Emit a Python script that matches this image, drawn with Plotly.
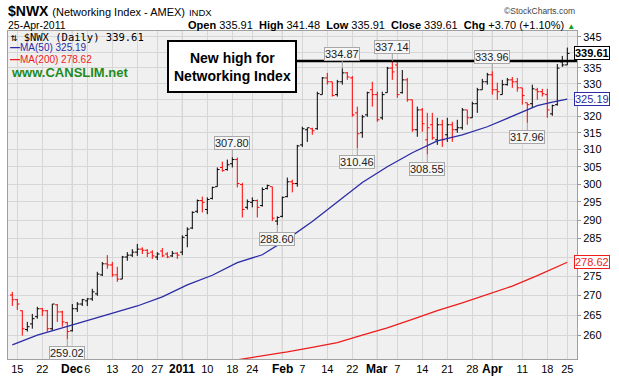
import numpy as np
import plotly.graph_objects as go

# ---------------- data ----------------
nov = [12, 15, 16, 17, 18, 19, 22, 23, 24, 26, 29, 30]
dec = [1, 2, 3, 6, 7, 8, 9, 10, 13, 14, 15, 16, 17, 20, 21, 22, 23, 27, 28, 29, 30, 31]
jan = [3, 4, 5, 6, 7, 10, 11, 12, 13, 14, 18, 19, 20, 21, 24, 25, 26, 27, 28, 31]
feb = [1, 2, 3, 4, 7, 8, 9, 10, 11, 14, 15, 16, 17, 18, 22, 23, 24, 25, 28]
mar = [1, 2, 3, 4, 7, 8, 9, 10, 11, 14, 15, 16, 17, 18, 21, 22, 23, 24, 25, 28, 29, 30, 31]
apr = [1, 4, 5, 6, 7, 8, 11, 12, 13, 14, 15, 18, 19, 20, 21, 25]

dates = ([f"2010-11-{d:02d}" for d in nov] + [f"2010-12-{d:02d}" for d in dec] +
         [f"2011-01-{d:02d}" for d in jan] + [f"2011-02-{d:02d}" for d in feb] +
         [f"2011-03-{d:02d}" for d in mar] + [f"2011-04-{d:02d}" for d in apr])

opens = [
    270.1, 268.9, 266.1, 261.4, 262.8, 264.6, 266.6, 266.1, 261.6, 267.6,
    265.8, 263.1, 261.1, 266.6, 267.8, 268.6, 269.1, 270.4, 275.3, 278.2,
    277.9, 275.3, 274.2, 280.0, 280.5, 281.3, 282.1, 281.8, 281.3, 280.0,
    281.6, 280.8, 280.3, 281.0, 281.3, 285.8, 287.8, 292.4, 295.4, 292.9,
    296.0, 299.3, 304.8, 304.2, 305.9, 307.1, 299.9, 293.5, 294.9, 295.4,
    294.0, 298.8, 299.3, 289.7, 291.0, 296.5, 300.7, 300.2, 311.4, 315.9,
    316.2, 316.2, 326.6, 331.8, 330.6, 326.6, 330.6, 333.4, 331.8, 321.0,
    315.0, 320.4, 328.1, 326.6, 319.5, 327.2, 334.9, 335.9, 327.2, 331.2,
    325.0, 315.9, 321.9, 312.9, 317.4, 312.9, 317.4, 314.4, 317.4, 315.9,
    316.5, 321.9, 319.5, 323.8, 328.1, 330.6, 332.8, 328.1, 326.6, 329.7,
    331.2, 330.6, 328.7, 324.1, 323.8, 328.1, 327.5, 326.6, 320.7, 323.5,
    336.9, 335.91]
highs = [
    270.9, 269.1, 266.2, 263.3, 265.3, 267.1, 266.8, 266.3, 267.8, 267.8,
    266.1, 263.3, 267.8, 268.3, 269.1, 269.3, 271.7, 276.1, 278.7, 280.5,
    278.7, 277.4, 280.3, 281.3, 282.1, 283.5, 282.6, 282.1, 281.8, 281.3,
    282.4, 281.3, 281.6, 281.3, 285.8, 288.0, 292.4, 295.7, 296.5, 296.3,
    299.3, 304.8, 306.5, 307.1, 307.80, 307.7, 300.4, 295.7, 296.3, 295.7,
    299.1, 299.9, 299.3, 291.0, 296.5, 301.9, 301.3, 311.4, 316.8, 316.5,
    316.5, 327.5, 332.1, 333.4, 330.6, 331.2, 334.87, 333.7, 332.4, 322.9,
    320.4, 327.5, 330.6, 327.5, 327.5, 335.3, 337.14, 336.9, 334.3, 331.8,
    325.0, 322.9, 322.5, 321.0, 321.0, 319.5, 318.9, 319.5, 318.3, 318.9,
    322.5, 321.9, 324.4, 328.7, 331.5, 333.4, 333.96, 330.3, 331.2, 331.8,
    332.1, 331.8, 328.7, 324.1, 329.7, 328.7, 328.4, 328.4, 323.5, 336.2,
    338.8, 341.48]
lows = [
    267.3, 266.3, 259.9, 260.9, 261.6, 264.1, 264.8, 260.9, 261.1, 263.3,
    262.1, 259.02, 260.9, 265.8, 267.3, 267.3, 268.6, 269.9, 275.0, 276.9,
    274.8, 273.5, 274.2, 279.0, 280.0, 280.3, 280.8, 280.0, 279.5, 279.2,
    280.0, 279.7, 280.0, 279.5, 280.5, 282.6, 287.5, 291.9, 292.1, 291.6,
    295.7, 299.3, 303.6, 303.9, 304.8, 299.1, 290.7, 292.9, 293.5, 290.7,
    293.7, 298.5, 289.7, 288.60, 290.7, 296.3, 297.7, 299.3, 310.8, 312.3,
    314.4, 315.9, 326.6, 329.7, 326.0, 326.0, 329.7, 331.2, 319.8, 310.46,
    313.5, 319.8, 322.9, 318.3, 318.9, 327.2, 331.2, 325.6, 326.9, 324.4,
    315.3, 313.8, 315.3, 308.55, 312.9, 311.4, 310.8, 312.3, 312.3, 315.0,
    315.9, 317.4, 319.5, 321.0, 328.1, 329.7, 326.6, 325.0, 326.6, 329.4,
    328.7, 327.5, 323.5, 317.96, 322.5, 325.0, 326.0, 319.5, 320.1, 323.2,
    335.3, 335.91]
closes = [
    268.9, 267.8, 261.6, 262.1, 264.1, 266.6, 266.1, 261.6, 267.8, 265.8,
    263.3, 260.9, 266.6, 267.8, 268.9, 269.1, 270.9, 275.5, 278.2, 277.9,
    275.3, 274.2, 280.0, 280.5, 281.3, 282.1, 281.8, 281.0, 280.3, 280.8,
    280.3, 280.0, 281.0, 280.5, 285.3, 287.5, 292.1, 295.4, 294.9, 295.7,
    299.1, 304.2, 303.9, 305.6, 307.1, 300.2, 292.9, 295.1, 295.4, 293.5,
    298.5, 299.6, 290.5, 290.7, 296.3, 300.7, 300.2, 311.1, 316.2, 316.5,
    315.6, 326.9, 331.8, 330.6, 326.3, 330.6, 333.4, 332.1, 320.4, 314.7,
    319.8, 327.2, 326.6, 318.9, 326.6, 334.9, 333.7, 326.6, 331.2, 325.0,
    315.9, 321.9, 317.7, 316.5, 313.5, 317.4, 312.9, 317.4, 315.9, 316.5,
    321.9, 319.5, 323.8, 328.1, 330.6, 332.8, 328.1, 327.5, 329.7, 331.2,
    330.6, 328.7, 326.3, 323.5, 328.4, 327.5, 326.9, 321.9, 323.2, 334.9,
    335.91, 339.61]

ma50_idx = [0, 5, 10, 15, 20, 25, 30, 35, 40, 45, 50, 55, 60, 65, 70, 75, 80,
            85, 90, 95, 100, 105, 108, 111]
ma50_vals = [257.6, 260.0, 261.8, 263.6, 265.3, 267.3, 269.6, 272.7, 275.2, 278.5,
             280.6, 284.8, 289.6, 294.9, 300.5, 305.0, 309.1, 312.6, 314.4, 316.8,
             320.1, 323.2, 324.3, 325.19]
ma200_idx = [45, 50, 55, 60, 65, 70, 75, 80, 85, 90, 95, 100, 105, 111]
ma200_vals = [254.0, 254.9, 255.9, 257.0, 258.2, 260.0, 261.8, 263.9, 266.1, 268.1,
              270.2, 272.4, 275.1, 278.62]

label_dates = ["2010-11-30", "2011-01-18", "2011-01-31", "2011-02-17", "2011-02-23",
               "2011-03-04", "2011-03-15", "2011-04-01", "2011-04-12"]
label_vals = [259.02, 307.80, 288.60, 334.87, 310.46, 337.14, 308.55, 333.96, 317.96]
label_side = ["below", "above", "below", "above", "below", "above", "below", "above", "below"]

tick_dates = ["2010-11-15", "2010-11-22", "2010-12-06", "2010-12-13",
              "2010-12-20", "2010-12-27", "2011-01-10", "2011-01-18",
              "2011-01-24", "2011-02-07", "2011-02-14", "2011-02-22",
              "2011-03-07", "2011-03-14", "2011-03-21", "2011-03-28",
              "2011-04-11", "2011-04-18", "2011-04-25"]
tick_text = ["15", "22", "6", "13", "20", "27", "10", "18",
             "24", "7", "14", "22", "7", "14", "21", "28", "11", "18", "25"]
month_dates = ["2010-12-01", "2011-01-03", "2011-02-01", "2011-03-01", "2011-04-01"]
month_text = ["Dec", "2011", "Feb", "Mar", "Apr"]

y_ticks = [260, 265, 270, 275, 280, 285, 290, 295, 300, 305, 310, 315, 320, 325,
           330, 335, 340, 345]
# labels hidden behind the value tags in the reference
y_hidden = [280, 325, 340]

FONT = "Liberation Sans, Arial, sans-serif"

# ---------------- figure ----------------
fig = go.Figure()

n = len(dates)
up_idx = [i for i in range(n) if i > 0 and closes[i] >= closes[i - 1]]
dn_idx = [i for i in range(n) if i not in up_idx]

fig.add_trace(go.Scatter(x=[dates[i] for i in ma200_idx], y=ma200_vals, mode="lines",
                         line=dict(color="#ee1c1c", width=1.3), hoverinfo="skip"))
fig.add_trace(go.Scatter(x=[dates[i] for i in ma50_idx], y=ma50_vals, mode="lines",
                         line=dict(color="#2b2ba6", width=1.3), hoverinfo="skip"))

for idxs, col in [(dn_idx, "#ff0000"), (up_idx, "#000000")]:
    fig.add_trace(go.Ohlc(
        x=[dates[i] for i in idxs],
        open=[opens[i] for i in idxs], high=[highs[i] for i in idxs],
        low=[lows[i] for i in idxs], close=[closes[i] for i in idxs],
        increasing=dict(line=dict(color=col, width=1)),
        decreasing=dict(line=dict(color=col, width=1)),
        tickwidth=0.45, hoverinfo="skip"))

L, R, T, B = 8, 577, 31, 359
def px(x):
    return (x - L) / (R - L)
def py(y):
    return (B - y) / (B - T)

shapes = []
for d in month_dates:
    shapes.append(dict(type="line", xref="x", yref="paper", x0=d, x1=d, y0=0, y1=1,
                       line=dict(color="#b4b4b4", width=1), layer="below"))
# annotation box and new-high line
shapes.append(dict(type="line", xref="paper", yref="y", x0=px(296), x1=1,
                   y0=label_vals[5], y1=label_vals[5], line=dict(color="black", width=2.5)))
shapes.append(dict(type="rect", xref="paper", yref="paper", x0=px(168), x1=px(296),
                   y0=py(92), y1=py(41), line=dict(color="black", width=2), fillcolor="white"))

ann = []
ann.append(dict(xref="paper", yref="paper", x=(px(168) + px(296)) / 2, y=(py(92) + py(41)) / 2,
                text="<b>New high for<br>Networking Index</b>", showarrow=False,
                font=dict(family=FONT, size=14, color="black"), xanchor="center", yanchor="middle"))

for d, v, s in zip(label_dates, label_vals, label_side):
    ann.append(dict(x=d, y=np.log10(v), xref="x", yref="y", text=f"{v:.2f}",
                    showarrow=True, arrowhead=0, arrowwidth=1, arrowcolor="#a0a0a0",
                    ax=0, ay=-14 if s == "above" else 14, standoff=0,
                    font=dict(family=FONT, size=11, color="#222"),
                    bgcolor="#f6f6f6", bordercolor="#a8a8a8", borderwidth=1, borderpad=0))

# month labels on the x axis (bold)
for d, t in zip(month_dates, month_text):
    ann.append(dict(x=d, xref="x", yref="paper", y=py(368.5), yanchor="middle",
                    text=f"<b>{t}</b>", showarrow=False,
                    font=dict(family=FONT, size=12, color="black")))

# right-side value tags
for v, col, bold in [(closes[-1], "black", True), (ma50_vals[-1], "#2b2ba6", False),
                     (ma200_vals[-1], "#ee1c1c", False)]:
    t = f"{v:.2f}"
    ann.append(dict(xref="paper", yref="y", x=1, y=np.log10(v), xanchor="left", xshift=-3,
                    text=f"<b>{t}</b>" if bold else t, showarrow=False,
                    font=dict(family=FONT, size=11, color=col), bgcolor="white",
                    bordercolor=col, borderwidth=1, borderpad=0))

# header
ann.append(dict(xref="paper", yref="paper", x=px(6), y=py(11), xanchor="left", yanchor="middle",
                showarrow=False, font=dict(family=FONT, size=14, color="black"),
                text="<b>$NWX</b> <span style='font-size:11px'>(Networking Index - AMEX)</span> "
                     "<span style='font-size:9.5px'>INDX</span>"))
ann.append(dict(xref="paper", yref="paper", x=1, y=py(11), xanchor="right", yanchor="middle",
                showarrow=False, font=dict(family=FONT, size=8.5, color="#444"),
                text="©StockCharts.com"))
ann.append(dict(xref="paper", yref="paper", x=px(6), y=py(25), xanchor="left", yanchor="middle",
                showarrow=False, font=dict(family=FONT, size=10.5, color="black"),
                text="25-Apr-2011"))
ann.append(dict(xref="paper", yref="paper", x=1, y=py(25), xanchor="right", yanchor="middle",
                showarrow=False, font=dict(family=FONT, size=11, color="black"),
                text="<b>Open</b> 335.91  <b>High</b> 341.48  <b>Low</b> 335.91  "
                     "<b>Close</b> 339.61  <b>Chg</b> +3.70 (+1.10%) "
                     "<span style='color:#10a010;font-size:8px'>▲</span>"))

# in-plot legend
ann.append(dict(xref="paper", yref="paper", x=px(9), y=py(36.8), xanchor="left", yanchor="middle",
                showarrow=False, font=dict(family="DejaVu Sans Mono, monospace", size=10.5, color="black"),
                text="⇅ $NWX (Daily) 339.61"))
ann.append(dict(xref="paper", yref="paper", x=px(8), y=py(47.3), xanchor="left", yanchor="middle",
                showarrow=False, font=dict(family=FONT, size=10, color="#2b2ba6"),
                text="<b>—</b>MA(50) 325.19"))
ann.append(dict(xref="paper", yref="paper", x=px(8), y=py(59.3), xanchor="left", yanchor="middle",
                showarrow=False, font=dict(family=FONT, size=10, color="#ee1c1c"),
                text="<b>—</b>MA(200) 278.62"))
ann.append(dict(xref="paper", yref="paper", x=px(9), y=py(72.5), xanchor="left", yanchor="middle",
                showarrow=False, font=dict(family=FONT, size=13, color="#1e8b1e"),
                text="<b>www.CANSLIM.net</b>"))

fig.update_layout(
    width=619, height=383,
    margin=dict(l=L, r=619 - R, t=T, b=383 - B, autoexpand=False),
    paper_bgcolor="white", plot_bgcolor="#f0f0f0",
    showlegend=False,
    shapes=shapes, annotations=ann,
    xaxis=dict(type="category", categoryorder="array", categoryarray=dates,
               range=[-0.86, 112.94], tickvals=tick_dates + month_dates,
               ticktext=tick_text + [""] * len(month_dates),
               showgrid=True, gridcolor="#d6d6d6", gridwidth=1, ticks="",
               tickfont=dict(family=FONT, size=11, color="black"),
               showline=True, linecolor="#a0a0a0", mirror=True, zeroline=False,
               rangeslider=dict(visible=False), fixedrange=True, automargin=False),
    yaxis=dict(type="log", side="right", range=[np.log10(254.2), np.log10(346.9)],
               tickvals=y_ticks, ticktext=["" if v in y_hidden else str(v) for v in y_ticks],
               showgrid=True, gridcolor="#d6d6d6", gridwidth=1,
               ticks="outside", ticklen=3, tickcolor="#999",
               tickfont=dict(family=FONT, size=11, color="black"),
               showline=True, linecolor="#a0a0a0", mirror=True, zeroline=False,
               automargin=False, fixedrange=True),
)

fig.write_html("out.html", config={"displayModeBar": False},
               post_script="document.body.style.margin='0px';")
